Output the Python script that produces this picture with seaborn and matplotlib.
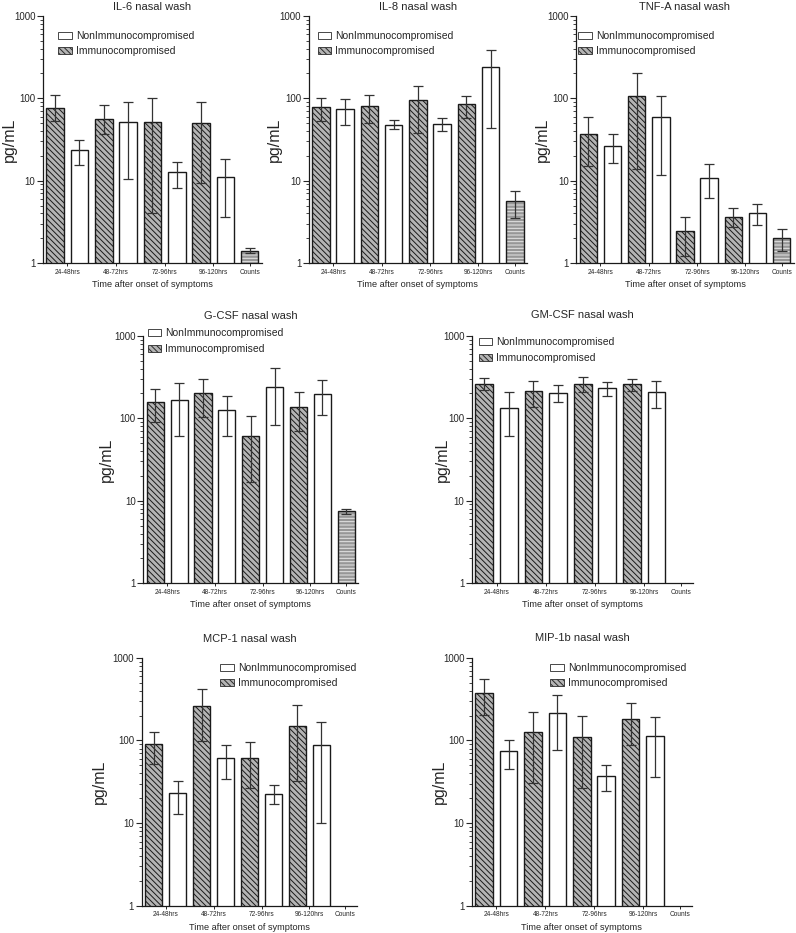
import numpy as np
import pandas as pd
import matplotlib
matplotlib.use('Agg')
import matplotlib.pyplot as plt
from matplotlib.patches import Patch, Rectangle
from matplotlib.ticker import LogLocator, NullFormatter
import seaborn as sns

sns.set_style('ticks')
plt.rcParams['font.family'] = ['Liberation Sans', 'DejaVu Sans']
plt.rcParams['hatch.linewidth'] = 0.7

# bar slots: immuno / non for each time window, then counts
slot_groups = ['Immuno', 'Non', 'Immuno', 'Non', 'Immuno', 'Non', 'Immuno', 'Non', 'Counts']
tick_labels = ['24-48hrs', '48-72hrs', '72-96hrs', '96-120hrs', 'Counts']
legend_labels = ['NonImmunocompromised', 'Immunocompromised']

# IL-6
il6_mean = [76, 23.5, 56, 51, 52, 12.7, 50, 11, 1.42]
il6_low = [53, 15.7, 37, 10.5, 4.0, 8.1, 9.5, 3.6, 1.32]
il6_high = [111, 31.5, 82, 91, 101, 17, 91, 18.5, 1.52]

# IL-8
il8_mean = [79, 75, 81, 48, 96, 49, 85, 237, 5.6]
il8_low = [53, 48, 50, 42, 38, 40, 58, 44, 3.5]
il8_high = [100, 98, 110, 54, 142, 58, 106, 380, 7.4]

# TNF-A
tnf_mean = [37, 26.7, 108, 59, 2.46, 10.9, 3.67, 4.1, 1.99]
tnf_low = [15, 16.5, 13.7, 11.8, 1.23, 6.2, 2.75, 2.9, 1.41]
tnf_high = [59, 37, 202, 106, 3.67, 15.8, 4.6, 5.2, 2.58]

# G-CSF
gcsf_mean = [159, 166, 204, 126, 61, 243, 138, 198, 7.45]
gcsf_low = [89, 61, 104, 61, 16.7, 83, 71, 109, 6.9]
gcsf_high = [226, 267, 301, 189, 106, 402, 206, 288, 7.9]

# GM-CSF
gmcsf_mean = [262, 135, 215, 204, 259, 236, 259, 211, np.nan]
gmcsf_low = [220, 61, 138, 156, 211, 189, 215, 133, np.nan]
gmcsf_high = [307, 207, 285, 250, 315, 279, 298, 285, np.nan]

# MCP-1
mcp1_mean = [90, 23, 259, 61, 61.5, 22.8, 148, 88, np.nan]
mcp1_low = [52, 13, 99.5, 34.4, 26.5, 17.3, 32, 10.2, np.nan]
mcp1_high = [128, 32.8, 417, 87, 97, 28.6, 267, 166, np.nan]

# MIP-1b
mip1b_mean = [377, 74, 125, 215, 110, 37.4, 184, 114, np.nan]
mip1b_low = [206, 45, 31, 77, 27, 24.2, 87, 36.7, np.nan]
mip1b_high = [552, 102, 219, 356, 196, 50.9, 282, 193, np.nan]

# title, data, axes rect, legend anchor, title pad, ylabel x
panels = [
    ('IL-6 nasal wash', il6_mean, il6_low, il6_high,
     [0.054, 0.718, 0.275, 0.265], (0.07, 0.94), 4, -0.12),
    ('IL-8 nasal wash', il8_mean, il8_low, il8_high,
     [0.388, 0.718, 0.274, 0.265], (0.04, 0.94), 4, -0.125),
    ('TNF-A nasal wash', tnf_mean, tnf_low, tnf_high,
     [0.724, 0.718, 0.273, 0.265], (0.01, 0.94), 4, -0.12),
    ('G-CSF nasal wash', gcsf_mean, gcsf_low, gcsf_high,
     [0.180, 0.375, 0.270, 0.265], (0.02, 1.03), 12, -0.135),
    ('GM-CSF nasal wash', gmcsf_mean, gmcsf_low, gmcsf_high,
     [0.593, 0.375, 0.278, 0.265], (0.03, 0.995), 13, -0.10),
    ('MCP-1 nasal wash', mcp1_mean, mcp1_low, mcp1_high,
     [0.178, 0.029, 0.271, 0.266], (0.365, 0.98), 11, -0.16),
    ('MIP-1b nasal wash', mip1b_mean, mip1b_low, mip1b_high,
     [0.593, 0.029, 0.276, 0.266], (0.355, 0.98), 12, -0.115),
]

imm_face = '#b4b4b4'
palette = {'Immuno': imm_face, 'Non': 'white', 'Counts': '#9a9a9a'}
slots = [f's{i}' for i in range(9)]

fig = plt.figure(figsize=(7.96, 9.33), dpi=100)

for title, mean, low, high, pos, leg_anchor, tpad, ylab_x in panels:
    ax = fig.add_axes(pos)
    ax.set_yscale('log')
    df = pd.DataFrame({'slot': slots, 'group': slot_groups, 'value': mean,
                       'low': low, 'high': high}).dropna()

    sns.barplot(data=df, x='slot', y='value', hue='group', order=slots,
                palette=palette, dodge=False, width=0.72, legend=False,
                edgecolor='#1a1a1a', linewidth=1.0, ax=ax)

    for p in list(ax.patches):
        slot = int(round(p.get_x() + p.get_width() / 2))
        grp = slot_groups[slot]
        if grp == 'Immuno':
            p.set_hatch('\\\\\\\\\\\\')
            p.set_edgecolor('#1a1a1a')
        elif grp == 'Counts':
            p.set_facecolor('#979797')
            p.set_edgecolor('#e6e6e6')
            p.set_hatch('-----')
            p.set_linewidth(0)
            ax.add_patch(Rectangle(p.get_xy(), p.get_width(), p.get_height(),
                                   fill=False, edgecolor='#1a1a1a', lw=1.0, zorder=2))

    xs = np.array([slots.index(s) for s in df['slot']])
    ax.errorbar(xs, df['value'], yerr=[df['value'] - df['low'], df['high'] - df['value']],
                fmt='none', ecolor='#333333', elinewidth=0.9, capsize=3.6,
                capthick=0.9, zorder=5)

    ax.set_ylim(1, 1000)
    ax.set_xlim(-0.5, 8.5)
    ax.set_yticks([1, 10, 100, 1000])
    ax.set_yticklabels(['1', '10', '100', '1000'])
    ax.yaxis.set_minor_locator(LogLocator(base=10, subs=np.arange(2, 10)))
    ax.yaxis.set_minor_formatter(NullFormatter())
    ax.set_xticks([0.5, 2.5, 4.5, 6.5, 8])
    ax.set_xticklabels(tick_labels)
    ax.tick_params(axis='y', which='major', labelsize=7, length=4, width=0.8, pad=1.5)
    ax.tick_params(axis='y', which='minor', length=2, width=0.6)
    ax.tick_params(axis='x', labelsize=4.7, length=2.5, width=0.7, pad=1.5)
    for s in ['left', 'bottom']:
        ax.spines[s].set_linewidth(0.9)
        ax.spines[s].set_color('#1a1a1a')
    sns.despine(ax=ax)

    ax.set_title(title, fontsize=8, pad=tpad)
    ax.set_ylabel('pg/mL', fontsize=11.5)
    ax.yaxis.set_label_coords(ylab_x, 0.5)
    ax.set_xlabel('Time after onset of symptoms', fontsize=6.6, labelpad=3)

    handles = [Patch(facecolor='white', edgecolor='#2a2a2a', lw=0.6),
               Patch(facecolor=imm_face, edgecolor='#2a2a2a', lw=0.6, hatch='\\\\\\\\\\\\')]
    ax.legend(handles, legend_labels, loc='upper left', bbox_to_anchor=leg_anchor,
              frameon=False, fontsize=7.5, handlelength=1.3, handleheight=0.65,
              handletextpad=0.4, labelspacing=0.55, borderaxespad=0, borderpad=0)

fig.savefig('out.png', dpi=100)
